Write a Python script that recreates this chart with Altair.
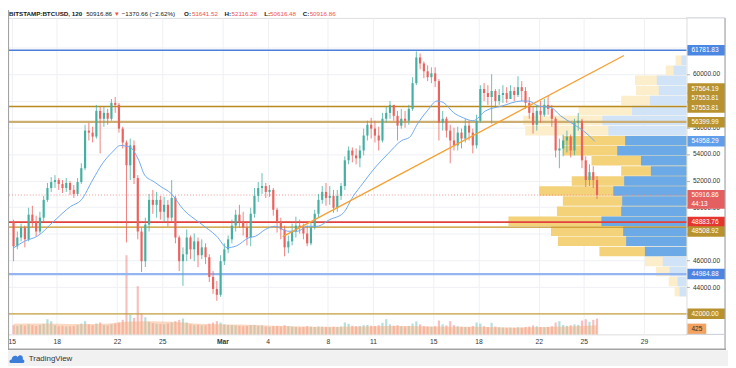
import altair as alt
import pandas as pd

# ---------------- data ----------------
first_open = 48900
close = [47070,47730,48480,47590,49440,48920,48180,49220,50550,51440,
         51890,52040,51740,51440,51820,51300,51000,51890,52930,55750,
         55600,55300,57230,56640,57080,56640,57830,57680,55900,54860,
         53150,54640,52190,48180,45950,48700,50550,50180,50550,49660,
         50180,49220,50700,47730,45950,46470,47730,46840,47440,46400,
         46990,46250,44770,43870,43430,45950,46840,47590,48620,49440,
         48920,48480,47730,49510,50850,51440,51590,51150,51300,49810,
         48920,48330,46990,47440,48180,48620,48480,48030,47290,48480,
         49510,50550,51150,50700,50850,49960,50850,51590,53520,54260,
         53890,53670,54260,55380,56190,55900,55380,55010,56640,57080,
         57680,56860,56120,56640,56490,57380,59310,61240,60790,60200,
         59760,60050,59460,56340,56640,55750,55010,54640,55600,55150,
         56120,55600,54640,56490,58870,58570,58270,58720,57970,58420,
         58570,58120,58720,58420,59010,58720,57830,57080,56190,57230,
         56940,57680,57380,56640,54260,54410,55010,55300,54260,56340,
         56490,53520,52040,52630,52040,50916.86]
high = [49070,48180,48770,48620,49960,50110,49370,49660,50850,51820,
        52260,52410,52190,52040,52190,51960,51670,52190,53300,56190,
        56340,56040,57680,57530,57530,57380,58120,58270,57830,56040,
        55010,55150,55010,52410,48480,49220,51000,51300,51150,50850,
        50780,50550,52040,50850,47880,46990,48330,47880,48030,47730,
        47590,47290,46470,45210,44470,46400,47290,47880,49070,49810,
        50180,49660,48920,49960,51440,51890,52560,51820,51670,51440,
        49960,49220,48620,47880,48770,49290,49070,48770,48620,48920,
        49810,51000,51590,51820,51590,51300,51300,51820,53820,54560,
        54490,54410,54640,55900,56490,56710,56490,56040,57080,57530,
        57970,57680,57230,57380,57230,57680,59760,61690,61540,60940,
        60650,60500,60500,59610,57230,56790,56190,55970,56040,55900,
        56640,56490,55900,56940,59160,59310,59160,59980,58870,58870,
        59160,59010,59160,59010,59830,59460,59010,58270,57530,57680,
        57970,58120,58350,57680,56790,55150,55450,55750,55450,56640,
        57080,56640,53820,53220,53080,52330]
low = [45950,46840,47440,46990,47440,48480,47810,48030,48920,50400,
       51150,51440,51300,51070,51150,50920,50700,50850,51740,52780,
       55010,54860,55150,54040,56040,56190,56490,57080,55600,54410,
       47360,52040,51740,47590,45140,45510,48180,49510,49220,49070,
       48920,48550,48920,47290,45210,44100,45950,46100,45950,45510,
       46100,45730,44390,43500,42980,43280,45660,46550,47290,48180,
       48480,47880,47140,47070,49220,50400,51000,50700,50780,49370,
       48100,47590,46320,46550,47140,47730,48030,47590,47070,47140,
       48330,49220,50260,50110,50180,49590,49660,50550,51300,53220,
       53370,53220,53000,53890,55010,55150,54860,54260,54860,56340,
       56640,56490,55010,55900,55970,56190,57230,59160,60350,59680,
       59460,59310,59010,55010,55750,55230,53300,54260,54260,54410,
       54860,55010,54040,54410,56340,57970,57680,56270,57530,57680,
       57830,57830,58120,57970,58270,57970,57380,56640,55530,55750,
       56340,56790,56940,56040,53740,52930,53820,54120,53740,53890,
       55750,52930,51520,51590,51440,50616.48]
volume = [700,650,720,680,760,700,640,720,800,1150,
          1000,700,620,650,600,620,640,700,820,1000,
          760,700,820,900,700,680,760,820,900,1100,
          6000,1500,1250,3650,1600,1300,950,850,800,780,
          760,820,900,1000,1100,1200,900,760,700,720,
          680,700,820,900,1000,900,760,720,700,680,
          650,620,640,700,720,650,680,600,560,620,
          640,600,700,620,580,560,540,560,620,580,
          560,600,580,560,540,580,560,600,900,800,
          650,620,640,700,720,660,640,700,880,1150,
          760,660,700,620,600,640,820,980,760,620,
          600,580,620,1050,760,680,1000,700,620,580,
          560,560,640,900,820,620,560,880,600,540,
          520,500,520,500,540,520,560,600,680,620,
          560,540,560,620,900,1000,720,640,700,760,
          720,1050,1150,950,1100,1200]
vol_ma_index = [0,6,12,18,24,30,36,42,48,54,60,66,72,78,84,90,96,102,108,114,120,126,132,138,144,150,155]
vol_ma = [800,820,800,780,800,950,1000,950,820,760,740,700,640,600,580,600,620,640,620,600,580,560,520,540,580,640,700]

ma_time = ["2021-02-15T02:00:00Z","2021-02-15T21:00:00Z","2021-02-16T17:00:00Z","2021-02-17T19:00:00Z",
           "2021-02-18T22:00:00Z","2021-02-19T15:00:00Z","2021-02-20T09:00:00Z","2021-02-21T01:00:00Z",
           "2021-02-21T16:30:00Z","2021-02-22T05:00:00Z","2021-02-22T20:30:00Z","2021-02-23T10:30:00Z",
           "2021-02-23T20:00:00Z","2021-02-24T11:00:00Z","2021-02-24T22:00:00Z","2021-02-25T13:40:00Z",
           "2021-02-26T10:00:00Z","2021-02-27T12:00:00Z","2021-02-28T14:40:00Z","2021-03-01T07:40:00Z",
           "2021-03-01T21:50:00Z","2021-03-02T18:00:00Z","2021-03-03T04:50:00Z","2021-03-03T20:20:00Z",
           "2021-03-04T12:00:00Z","2021-03-05T08:00:00Z","2021-03-05T23:40:00Z","2021-03-06T15:00:00Z",
           "2021-03-07T06:40:00Z","2021-03-08T03:00:00Z","2021-03-09T00:40:00Z","2021-03-09T16:00:00Z",
           "2021-03-10T07:40:00Z","2021-03-11T04:00:00Z","2021-03-12T00:00:00Z","2021-03-12T21:50:00Z",
           "2021-03-13T10:20:00Z","2021-03-13T22:40:00Z","2021-03-14T14:20:00Z","2021-03-15T05:50:00Z",
           "2021-03-15T16:50:00Z","2021-03-16T08:20:00Z","2021-03-17T00:00:00Z","2021-03-17T15:10:00Z",
           "2021-03-18T11:20:00Z","2021-03-19T13:40:00Z","2021-03-20T20:40:00Z","2021-03-21T07:40:00Z",
           "2021-03-21T23:20:00Z","2021-03-22T19:30:00Z","2021-03-23T11:00:00Z","2021-03-24T07:10:00Z",
           "2021-03-24T22:50:00Z","2021-03-25T17:20:00Z"]
ma_value = [46920,47460,47830,48940,50060,50550,52040,53300,54140,54630,54510,53520,52410,51910,51540,51050,
            49810,48820,47830,46970,47090,47710,47830,48330,48570,48200,48200,48570,48570,49070,49570,50800,
            51790,53020,54020,55010,55250,56240,57230,57970,57830,57100,56710,56490,57230,57600,57970,57970,
            57600,57480,56860,56240,55750,54958]

trend_time = ["2021-03-05T00:00:00Z", "2021-03-27T16:00:00Z"]
trend_value = [47800, 61385]

level_prices = [61781.83, 57564.19, 57553.81, 56399.99, 48883.76, 48508.92, 44984.88, 42000.00]
level_colors = ["#4C7FD8", "#B98A1F", "#B98A1F", "#CDAE72", "#E2423D", "#C3921E", "#94B5EF", "#C6A03E"]
level_widths = [1.4, 1.3, 1.3, 2.2, 1.6, 1.4, 2.4, 1.4]
last_price = 50916.86
last_volume = 425

profile_edges = [61700, 60921, 60142, 59362, 58583, 57804, 57025, 56246, 55466, 54687, 53908, 53129, 52350,
                 51570, 50791, 50012, 49233, 48454, 47674, 46895, 46116, 45337, 44558, 43778, 42999]
profile_total = [1100, 2100, 5200, 5100, 6600, 10900, 16500, 16300, 12500, 12500, 9600, 6600, 11600,
                 14900, 12500, 13100, 18000, 13700, 13000, 8800, 4200, 3100, 1800, 1200]
profile_up = [500, 1300, 3000, 2800, 3700, 5500, 8500, 7900, 6200, 7000, 4600, 3600, 6300,
              7400, 6500, 6600, 8600, 6400, 6100, 4200, 2400, 1700, 900, 700]
value_area = [False]*8 + [True]*12 + [False]*4

box_prices = [61781.83, 58902, 58197, 57480, 56370, 54958.29, 50590, 48883.76, 48178, 44984.88, 42000.00]
box_colors = ["#4A87E3", "#B8922F", "#B8922F", "#B8922F", "#B8922F", "#5E9EEA", "#E46060", "#E5352F",
              "#B8922F", "#4C84E2", "#B8922F"]
box_tall = [False]*6 + [True] + [False]*4
tag_texts = ["61781.83", "57564.19", "57553.81", "57553.81", "56399.99", "54958.29", "50916.86", "44:13",
             "48883.76", "48508.92", "44984.88", "42000.00"]
tag_prices = [61781.83, 58902, 58197, 57480, 56370, 54958.29, 50916.86, 50250, 48883.76, 48178, 44984.88, 42000.00]

date_ticks = [(2, 15), (2, 18), (2, 22), (2, 25), (3, 1), (3, 4), (3, 8), (3, 11), (3, 15), (3, 18), (3, 22),
              (3, 25), (3, 29)]
price_ticks = [42000, 44000, 46000, 48000, 50000, 52000, 54000, 56000, 58000, 60000, 62000]
hidden_price_labels = [62000, 58000, 48000]   # covered by price tags in the reference

header_parts = ["BITSTAMP:BTCUSD, 120", "50916.86", "\u25bc", "\u22121370.66 (\u22122.62%)", "O:", "51641.52",
                "H:", "52116.28", "L:", "50616.48", "C:", "50916.86"]
header_x = [1, 79, 107, 115, 178, 186, 219, 226, 259, 265, 298, 305]
header_color = ["#131722", "#131722", "#EF5350", "#131722", "#131722", "#EF5350", "#131722", "#EF5350",
                "#131722", "#EF5350", "#131722", "#EF5350"]
header_bold = [True, False, False, False, True, False, True, False, True, False, True, False]

# ---------------- frames ----------------
W, H = 686, 320
FONT = "Liberation Sans"
times = pd.date_range("2021-02-15 03:00", periods=len(close), freq="6h")
t_str = [t.strftime("%Y-%m-%dT%H:%M:%SZ") for t in times]
opens = [first_open] + close[:-1]
candles = pd.DataFrame({"t": t_str, "o": opens, "h": high, "l": low, "c": close, "v": volume})
volma_df = pd.DataFrame({"t": [t_str[i] for i in vol_ma_index], "v": vol_ma})
ma_df = pd.DataFrame({"t": ma_time, "p": ma_value})
trend_df = pd.DataFrame({"t": trend_time, "p": trend_value})
level_df = pd.DataFrame({"p": level_prices, "col": level_colors, "w": level_widths})
last_df = pd.DataFrame({"p": [last_price]})
prof_df = pd.DataFrame({
    "mid": [(profile_edges[i] + profile_edges[i + 1]) / 2 for i in range(len(profile_total))],
    "total": profile_total, "up": profile_up, "va": value_area})
SHORT = "M-1,-0.28L1,-0.28L1,0.28L-1,0.28Z"
TALL = "M-1,-0.5L1,-0.5L1,0.5L-1,0.5Z"
box_df = pd.DataFrame({"p": box_prices, "col": box_colors, "shape": [TALL if b else SHORT for b in box_tall]})
tag_df = pd.DataFrame({"p": tag_prices, "txt": tag_texts})
head_df = pd.DataFrame({"txt": header_parts, "x": header_x, "col": header_color, "b": header_bold})

XD = [alt.DateTime(year=2021, month=2, date=15, hours=2, minutes=1, utc=True),
      alt.DateTime(year=2021, month=3, date=31, hours=11, minutes=40, utc=True)]
YD = [40460, 64208]
xs = alt.Scale(type="utc", domain=XD, nice=False)
ys = alt.Scale(domain=YD, nice=False, zero=False)
vs = alt.Scale(domain=[0, 24000], nice=False)

hide_test = " || ".join(f"datum.value == {v}" for v in hidden_price_labels)
x_axis = alt.Axis(
    values=[alt.DateTime(year=2021, month=m, date=d, utc=True) for m, d in date_ticks],
    labelExpr="utcdate(datum.value) == 1 ? utcFormat(datum.value, '%b') : '' + utcdate(datum.value)",
    labelFontWeight={"condition": {"test": "utcdate(datum.value) == 1", "value": "bold"}, "value": "normal"},
    grid=True, gridColor="#EEF0F4", tickSize=0, domain=False, labelFontSize=6.8, labelColor="#333333",
    labelPadding=4, title=None, labelFont=FONT, labelFlush=False)
y_axis = alt.Axis(orient="right", values=price_ticks,
                  labelExpr=f"({hide_test}) ? '' : format(datum.value, '.2f')",
                  labelFontSize=6.6, labelColor="#333333",
                  tickSize=3, tickColor="#B0B0B0", domain=False, grid=True, gridColor="#EEF0F4",
                  labelPadding=3, title=None, labelFont=FONT)


def X(field):
    return alt.X(field, type="temporal", scale=xs, axis=x_axis)


def Y(field):
    return alt.Y(field, type="quantitative", scale=ys, axis=y_axis)


up_dn = alt.condition("datum.c >= datum.o", alt.value("#45B0A2"), alt.value("#EC625E"))

# ---- volume profile (own x scale) ----
prof_x = alt.Scale(domain=[68600, 0], nice=False, zero=False)
prof_y = alt.Scale(domain=YD, nice=False, zero=False)
prof_total = alt.Chart(prof_df).mark_bar(orient="horizontal", size=9.6).encode(
    x=alt.X("total:Q", scale=prof_x, axis=None),
    y=alt.Y("mid:Q", scale=prof_y, axis=None),
    color=alt.condition("datum.va", alt.value("#F4D27A"), alt.value("#FCEECB")))
prof_up = alt.Chart(prof_df).mark_bar(orient="horizontal", size=9.6).encode(
    x=alt.X("up:Q", scale=prof_x, axis=None),
    y=alt.Y("mid:Q", scale=prof_y, axis=None),
    color=alt.condition("datum.va", alt.value("#6CA9E7"), alt.value("#D1E3F7")))
profile = alt.layer(prof_total, prof_up)

# ---- volume pane (own y scale) ----
vx = alt.X("t:T", scale=xs, axis=None)
vol_bars = alt.Chart(candles).mark_bar(size=2.2, opacity=0.4, orient="vertical").encode(
    x=vx, y=alt.Y("v:Q", scale=vs, axis=None), color=up_dn)
vol_area = alt.Chart(volma_df).mark_area(color="#F7A877", opacity=0.45, interpolate="monotone").encode(
    x=vx, y=alt.Y("v:Q", scale=vs, axis=None))
vol_tag_df = pd.DataFrame({"v": [last_volume], "txt": [str(last_volume)]})
vol_box = alt.Chart(vol_tag_df).mark_point(filled=True, opacity=1, size=361,
                                           shape="M-1,-0.55L1,-0.55L1,0.55L-1,0.55Z", color="#F3A261").encode(
    x=alt.value(696.5), y=alt.Y("v:Q", scale=vs, axis=None))
vol_txt = alt.Chart(vol_tag_df).mark_text(align="left", baseline="middle", fontSize=6.6, font=FONT,
                                          color="#4A2A10").encode(
    x=alt.value(691), y=alt.Y("v:Q", scale=vs, axis=None), text="txt:N")
volume_pane = alt.layer(vol_bars, vol_area, vol_box, vol_txt)

# ---- price pane ----
levels = alt.Chart(level_df).mark_rule().encode(
    y=Y("p"), color=alt.Color("col:N", scale=None), strokeWidth=alt.StrokeWidth("w:Q", scale=None))
last_line = alt.Chart(last_df).mark_rule(strokeDash=[1, 2], color="#EE7B7B", opacity=0.8).encode(y=Y("p"))
wicks = alt.Chart(candles).transform_calculate(
    hi="max(datum.h, datum.o, datum.c)", lo="min(datum.l, datum.o, datum.c)"
).mark_rule(strokeWidth=0.8).encode(x=X("t"), y=Y("lo:Q"), y2="hi:Q", color=up_dn)
bodies = alt.Chart(candles).mark_bar(size=2.2, orient="vertical").encode(
    x=X("t"), y=Y("o"), y2="c:Q", color=up_dn)
ma_line = alt.Chart(ma_df).mark_line(color="#6FA8EE", strokeWidth=1, interpolate="monotone").encode(
    x=X("t"), y=Y("p"))
trend = alt.Chart(trend_df).mark_line(color="#F7A033", strokeWidth=1.4).encode(x=X("t"), y=Y("p"))
boxes = alt.Chart(box_df).mark_point(filled=True, opacity=1, size=1444).encode(
    x=alt.value(706), y=Y("p"), color=alt.Color("col:N", scale=None), shape=alt.Shape("shape:N", scale=None))
tags = alt.Chart(tag_df).mark_text(align="left", baseline="middle", fontSize=6.6, font=FONT,
                                   color="white").encode(x=alt.value(691), y=Y("p"), text="txt:N")
price_pane = alt.layer(levels, last_line, wicks, bodies, ma_line, trend, boxes, tags)

# ---- decoration (frame, header, footer) ----
one = pd.DataFrame({"k": [0]})
FR = "#A3A3A3"
band = alt.Chart(one).mark_rect(color="#F1F1F1").encode(
    x=alt.value(0), x2=alt.value(728), y=alt.value(336), y2=alt.value(352))
frame = alt.layer(
    alt.Chart(one).mark_rule(color=FR, strokeWidth=1.2).encode(
        x=alt.value(0.5), y=alt.value(-8), y2=alt.value(335)),
    alt.Chart(one).mark_rule(color=FR, strokeWidth=1.2).encode(
        x=alt.value(725), y=alt.value(0), y2=alt.value(335)),
    alt.Chart(one).mark_rule(color=FR, strokeWidth=1.5).encode(
        x=alt.value(0), x2=alt.value(726), y=alt.value(335)),
    alt.Chart(one).mark_rule(color="#C8CBD2", strokeWidth=1).encode(
        x=alt.value(686), x2=alt.value(725), y=alt.value(0)),
    alt.Chart(one).mark_rule(color="#C8CBD2", strokeWidth=1).encode(
        x=alt.value(686), x2=alt.value(725), y=alt.value(320)),
)
head_b = alt.Chart(head_df).transform_filter("datum.b").mark_text(
    align="left", baseline="middle", fontSize=6.3, font=FONT, fontWeight="bold").encode(
    x=alt.X("x:Q", scale=None), y=alt.value(-4), text="txt:N", color=alt.Color("col:N", scale=None))
head_n = alt.Chart(head_df).transform_filter("!datum.b").mark_text(
    align="left", baseline="middle", fontSize=6.3, font=FONT).encode(
    x=alt.X("x:Q", scale=None), y=alt.value(-4), text="txt:N", color=alt.Color("col:N", scale=None))
logo = alt.Chart(one).mark_point(
    filled=True, opacity=1, size=196, color="#3B7DD8",
    shape="M-0.9,0.55C-1.15,0.55 -1.15,0.05 -0.75,0.05C-0.75,-0.5 -0.1,-0.65 0.1,-0.3C0.35,-0.75 1,-0.55 0.85,0.05C1.15,0.05 1.15,0.55 0.9,0.55Z"
).encode(x=alt.value(9), y=alt.value(345))
brand = alt.Chart(one).mark_text(align="left", baseline="middle", fontSize=8, font=FONT,
                                 color="#333333", text="TradingView").encode(x=alt.value(21), y=alt.value(345))
decor = alt.layer(band, frame, head_b, head_n, logo, brand)

chart = alt.layer(profile, volume_pane, price_pane, decor).resolve_scale(
    x="independent", y="independent"
).properties(
    width=W, height=H, autosize=alt.AutoSizeParams(type="none"),
    padding={"left": 0, "top": 8, "right": 42, "bottom": 32}, background="white"
).configure_view(stroke="#C8CBD2", strokeWidth=1).configure(font=FONT)

chart.save("out.html", embed_options={"renderer": "svg", "actions": False})
